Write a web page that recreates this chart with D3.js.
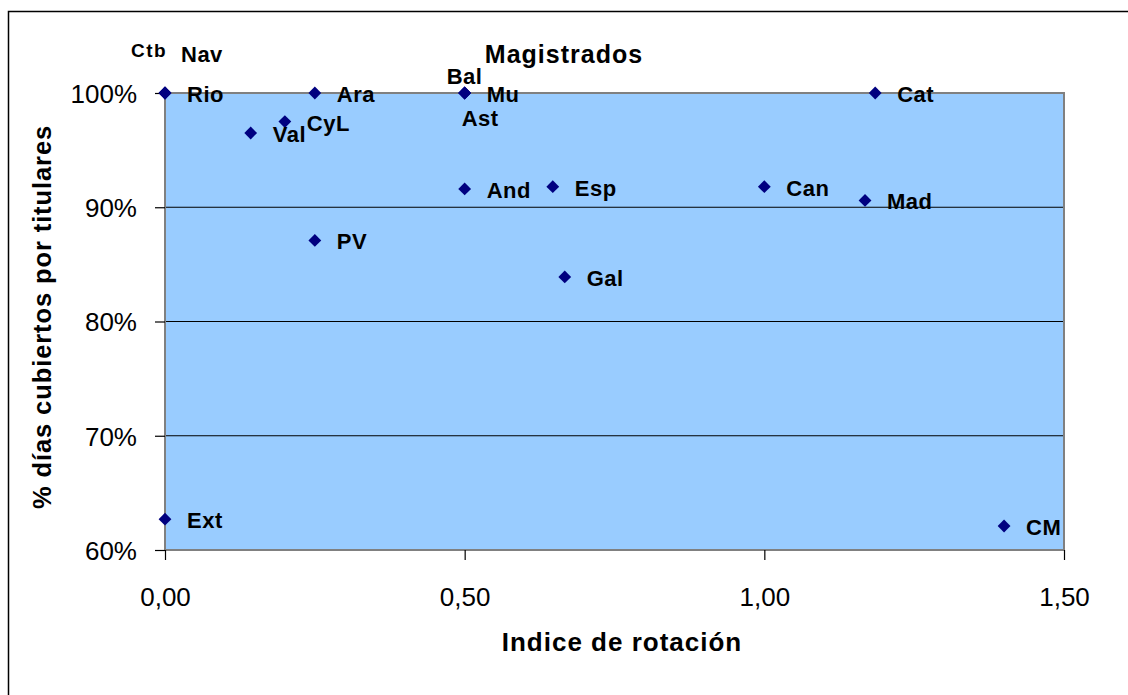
<!DOCTYPE html>
<html>
<head>
  <title>Magistrados</title>
  <script src="https://d3js.org/d3.v7.min.js"></script>
  <style>
    body { margin: 0; background: #fff; }
    text { font-family: "Liberation Sans", Arial, sans-serif; }
  </style>
</head>
<body>
  <svg width="1128" height="695"></svg>
  <script>
    // data
    var regions  = ["Ctb", "Nav", "Rio", "Ara", "Val", "CyL", "Bal", "Mu", "Ast", "Cat",
                    "And", "Esp", "Can", "Mad", "PV", "Gal", "Ext", "CM"];
    var rotation = [0, 0, 0, 0.25, 0.143, 0.20, 0.50, 0.50, 0.50, 1.185,
                    0.50, 0.647, 1.00, 1.168, 0.25, 0.667, 0, 1.40];
    var covered  = [1, 1, 1, 1, 0.965, 0.975, 1, 1, 1, 1,
                    0.916, 0.918, 0.918, 0.906, 0.871, 0.839, 0.627, 0.621];
    var xTicks = [0, 0.5, 1, 1.5];
    var yTicks = [0.6, 0.7, 0.8, 0.9, 1];

    // label placement tweaks (pixels) where labels were moved by hand
    var labelShift = {
      Ctb: [-34, -36], Nav: [16, -31], Bal: [-18, -9], Ast: [-3, 33]
    };

    var svg = d3.select("svg"),
        margin = {top: 93, right: 64, bottom: 145, left: 165},
        width = 1064 - margin.left,
        height = 550 - margin.top;

    // outer chart frame
    svg.append("rect")
        .attr("x", 8.5).attr("y", 11.5)
        .attr("width", 1400).attr("height", 1000)
        .attr("fill", "none").attr("stroke", "#000").attr("stroke-width", 1.5);

    var x = d3.scaleLinear().domain([0, 1.5]).range([0, width]),
        y = d3.scaleLinear().domain([0.6, 1]).range([height, 0]);

    var g = svg.append("g")
        .attr("transform", "translate(" + margin.left + "," + margin.top + ")");

    g.append("rect")
        .attr("width", width).attr("height", height)
        .attr("fill", "#99ccff");

    // gridlines
    g.selectAll(".grid")
      .data(yTicks.filter(function(d) { return d > 0.6 && d < 1; }))
      .enter().append("line")
        .attr("x1", 0).attr("x2", width)
        .attr("y1", function(d) { return y(d); })
        .attr("y2", function(d) { return y(d); })
        .attr("stroke", "#000").attr("stroke-width", 1.2);

    g.append("rect")
        .attr("width", width).attr("height", height)
        .attr("fill", "none").attr("stroke", "#808080").attr("stroke-width", 2);

    var xAxis = g.append("g")
        .attr("transform", "translate(0," + height + ")")
        .call(d3.axisBottom(x).tickValues(xTicks).tickSize(10).tickPadding(28)
          .tickFormat(function(d) { return d3.format(".2f")(d).replace(".", ","); }));

    var yAxis = g.append("g")
        .call(d3.axisLeft(y).tickValues(yTicks).tickSize(10).tickPadding(18)
          .tickFormat(d3.format(".0%")));

    [xAxis, yAxis].forEach(function(a) {
      a.select(".domain").remove();
      a.selectAll("line").attr("stroke", "#000").attr("stroke-width", 1.2);
      a.selectAll("text")
        .attr("fill", "#000")
        .style("font-family", "'Liberation Sans', Arial, sans-serif")
        .style("font-size", "26px");
    });
    yAxis.selectAll("text").attr("dy", "0.36em");

    var pts = regions.map(function(r, i) {
      return {name: r, x: rotation[i], y: covered[i]};
    });

    g.selectAll(".pt")
      .data(pts)
      .enter().append("path")
        .attr("class", "pt")
        .attr("d", d3.symbol(d3.symbolSquare, 82))
        .attr("transform", function(d) {
          return "translate(" + x(d.x) + "," + y(d.y) + ") rotate(45)";
        })
        .attr("fill", "#000080");

    g.selectAll(".lbl")
      .data(pts)
      .enter().append("text")
        .attr("class", "lbl")
        .attr("x", function(d) { return x(d.x) + (labelShift[d.name] ? labelShift[d.name][0] : 22); })
        .attr("y", function(d) { return y(d.y) + (labelShift[d.name] ? labelShift[d.name][1] : 9); })
        .attr("font-weight", "bold")
        .attr("font-size", function(d) { return d.name === "Ctb" ? "19px" : "22px"; })
        .attr("letter-spacing", function(d) { return d.name === "Ctb" ? "1.5px" : "0.5px"; })
        .text(function(d) { return d.name; });

    svg.append("text")
        .attr("x", 564).attr("y", 63)
        .attr("text-anchor", "middle")
        .attr("font-weight", "bold").attr("font-size", "25px")
        .attr("letter-spacing", "1px")
        .text("Magistrados");

    svg.append("text")
        .attr("x", 622).attr("y", 651)
        .attr("text-anchor", "middle")
        .attr("font-weight", "bold").attr("font-size", "26px")
        .attr("letter-spacing", "1px")
        .text("Indice de rotación");

    svg.append("text")
        .attr("transform", "translate(51,317) rotate(-90)")
        .attr("text-anchor", "middle")
        .attr("font-weight", "bold").attr("font-size", "25.5px")
        .attr("letter-spacing", "0.9px")
        .text("% días cubiertos por titulares");
  </script>
</body>
</html>
